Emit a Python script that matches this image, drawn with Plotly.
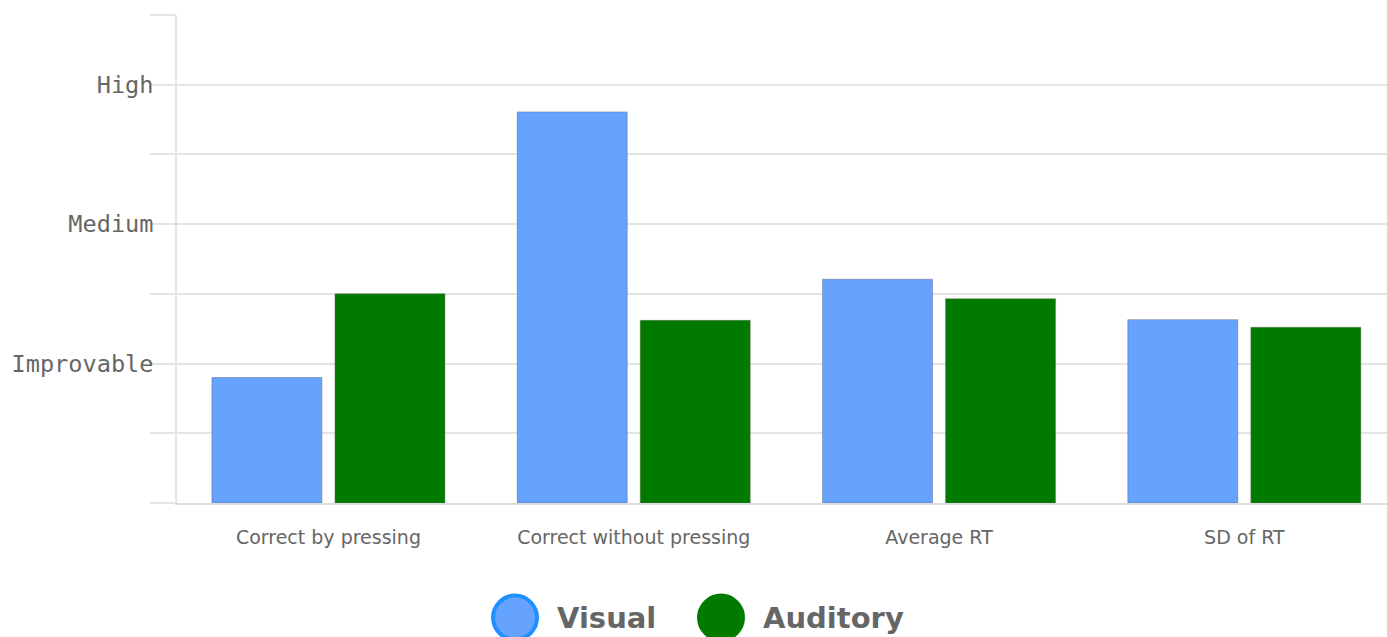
import plotly.graph_objects as go

categories = ["Correct by pressing", "Correct without pressing", "Average RT", "SD of RT"]
visual = [1.80, 5.61, 3.21, 2.63]
auditory = [3.00, 2.62, 2.93, 2.52]
series_names = ["Visual", "Auditory"]
level_values = [0, 1, 2, 3, 4, 5, 6, 7]
level_labels = ["", "", "Improvable", "", "Medium", "", "High", ""]

W, H = 1387, 637
ML, MR, MT, MB = 177, 0, 15, 134
plot_w = W - ML - MR
plot_h = H - MT - MB
cat_px = 305.3

VIS_COL = "#66a3ff"
AUD_COL = "#007b00"
GRID = "#e4e4e4"
TXT = "#666666"

fig = go.Figure()
fig.add_trace(go.Bar(
    x=list(range(len(categories))), y=visual, name=series_names[0],
    marker=dict(color=VIS_COL, line=dict(color="rgba(90,100,120,0.45)", width=1)),
    showlegend=False,
))
fig.add_trace(go.Bar(
    x=list(range(len(categories))), y=auditory, name=series_names[1],
    marker=dict(color=AUD_COL, line=dict(color="rgba(90,110,90,0.45)", width=1)),
    showlegend=False,
))

fig.update_layout(
    width=W, height=H,
    margin=dict(l=ML, r=MR, t=MT, b=MB, pad=0),
    paper_bgcolor="white", plot_bgcolor="white",
    barmode="group", bargap=0.194, bargroupgap=0.106,
    showlegend=False,
)
fig.update_xaxes(
    range=[-0.496, -0.496 + plot_w / cat_px],
    tickmode="array", tickvals=list(range(len(categories))), ticktext=categories,
    showgrid=False, zeroline=False,
    showline=True, linecolor="#dcdcdc", linewidth=1.5,
    ticks="", ticklabelstandoff=16,
    tickfont=dict(family="DejaVu Sans", size=19, color=TXT),
)
fig.update_yaxes(
    range=[0, 7],
    tickmode="array", tickvals=level_values, ticktext=level_labels,
    showgrid=True, gridcolor=GRID, gridwidth=1.5,
    zeroline=False,
    showline=True, linecolor=GRID, linewidth=1.5,
    ticks="outside", ticklen=25, tickcolor=GRID, tickwidth=1.5,
    ticklabelstandoff=-8,
    tickfont=dict(family="DejaVu Sans Mono", size=23.6, color=TXT),
)

# manual legend below the chart
def px_to_paper(px, py):
    return (px - ML) / plot_w, (H - MB - py) / plot_h

legend_items = [
    (series_names[0], VIS_COL, "#1e90ff", 515, 555),
    (series_names[1], AUD_COL, AUD_COL, 721, 761),
]
cy = 617.6
for name, fill, edge, cx, tx in legend_items:
    ax, ay = px_to_paper(cx, cy)
    fig.add_shape(
        type="circle", xref="paper", yref="paper",
        xsizemode="pixel", ysizemode="pixel",
        xanchor=ax, yanchor=ay, x0=-22, x1=22, y0=-22, y1=22,
        line=dict(color=edge, width=4), fillcolor=fill,
    )
    tx_p, ty_p = px_to_paper(tx, cy)
    fig.add_annotation(
        text=f"<b>{name}</b>", xref="paper", yref="paper",
        x=tx_p, y=ty_p, xanchor="left", yanchor="middle",
        showarrow=False, font=dict(family="DejaVu Sans", size=29, color=TXT),
    )

fig.write_html("out.html")
